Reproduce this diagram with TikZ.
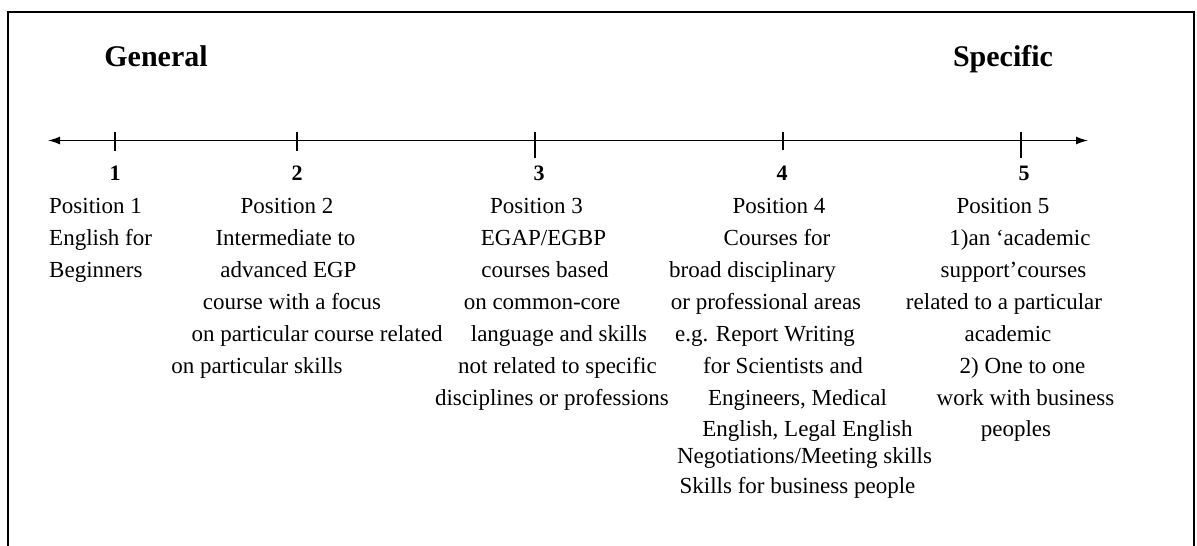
\documentclass[tikz,border=0pt]{standalone}
\usepackage{fontspec}
\setmainfont{Liberation Serif}
\usetikzlibrary{arrows.meta}
\begin{document}
\begin{tikzpicture}[x=1pt,y=-1pt,
  txt/.style={anchor=base,inner sep=0pt,font=\fontsize{23}{23}\selectfont},
  txtl/.style={txt,anchor=base west},
  num/.style={anchor=base,inner sep=0pt,font=\fontsize{22}{22}\selectfont\bfseries},
  head/.style={anchor=base,inner sep=0pt,font=\fontsize{30}{30}\selectfont\bfseries},
  axis/.style={line width=1.3pt,{Latex[length=12pt,width=8pt]}-{Latex[length=12pt,width=8pt]}},
  tick/.style={line width=1.2pt},
  frame/.style={line width=2.2pt}]
\useasboundingbox (0,0) rectangle (1197,546);

% open frame (bottom edge lies below the page)
\coordinate (fbl) at (8,556);
\coordinate (ftl) at (8,12);
\coordinate (ftr) at (1194,12);
\coordinate (fbr) at (1194,556);
\draw[frame] (fbl) -- (ftl) -- (ftr) -- (fbr);

% headings
\node[head] (gen) at (156,66) {General};
\node[head] (spec) at (1003,66) {Specific};

% scale axis
\coordinate (axL) at (48,140.5);
\coordinate (axR) at (1088,140.5);
\draw[axis] (axL) -- (axR);

% ticks
\foreach \k/\x/\b in {1/115/151,2/297/151,3/535/158,4/783/150,5/1021/158}{
  \coordinate (t\k top) at (\x,132);
  \coordinate (t\k bot) at (\x,\b);
  \draw[tick] (t\k top) -- (t\k bot);
}

% position numbers
\node[num] (n1) at (115,180) {1};
\node[num] (n2) at (297,180) {2};
\node[num] (n3) at (539,180) {3};
\node[num] (n4) at (782,180) {4};
\node[num] (n5) at (1024,180) {5};

% position 1
\node[txtl] (a1) at (49,213) {Position 1};
\node[txtl] (a2) at (49,245) {English for};
\node[txtl] (a3) at (49,277) {Beginners};

% position 2
\node[txt] (b1) at (287,213) {Position 2};
\node[txt] (b2) at (285.5,245) {Intermediate to};
\node[txt] (b3) at (288.5,277) {advanced EGP};
\node[txt] (b4) at (292,309) {course with a focus};
\node[txt] (b5) at (317,341) {on particular course related};
\node[txt] (b6) at (257,373) {on particular skills};

% position 3
\node[txt] (c1) at (536.5,213) {Position 3};
\node[txt] (c2) at (543.5,245) {EGAP/EGBP};
\node[txt] (c3) at (545,277) {courses based};
\node[txt] (c4) at (542,309) {on common-core};
\node[txt] (c5) at (559,341) {language and skills};
\node[txt] (c6) at (557.5,373) {not related to specific};
\node[txt] (c7) at (552,405) {disciplines or professions};

% position 4
\node[txt] (d1) at (779,213) {Position 4};
\node[txt] (d2) at (777,245) {Courses for};
\node[txt] (d3) at (752.5,277) {broad disciplinary};
\node[txt] (d4) at (766,309) {or professional areas};
\node[txt] (d5) at (765,341) {e.g. Report Writing};
\node[txt] (d6) at (783,373) {for Scientists and};
\node[txt] (d7) at (797.5,405) {Engineers, Medical};
\node[txt] (d8) at (807.5,436) {English, Legal English};
\node[txt] (d9) at (804.5,463) {Negotiations/Meeting skills};
\node[txt] (d10) at (797.5,493) {Skills for business people};

% position 5
\node[txt] (e1) at (1003,213) {Position 5};
\node[txt] (e2) at (1020,245) {1)an ‘academic};
\node[txt] (e3) at (1013.5,277) {support’courses};
\node[txt] (e4) at (1004,309) {related to a particular};
\node[txt] (e5) at (1008,341) {academic};
\node[txt] (e6) at (1022.5,373) {2) One to one};
\node[txt] (e7) at (1025.5,405) {work with business};
\node[txt] (e8) at (1016,436) {peoples};
\end{tikzpicture}
\end{document}
